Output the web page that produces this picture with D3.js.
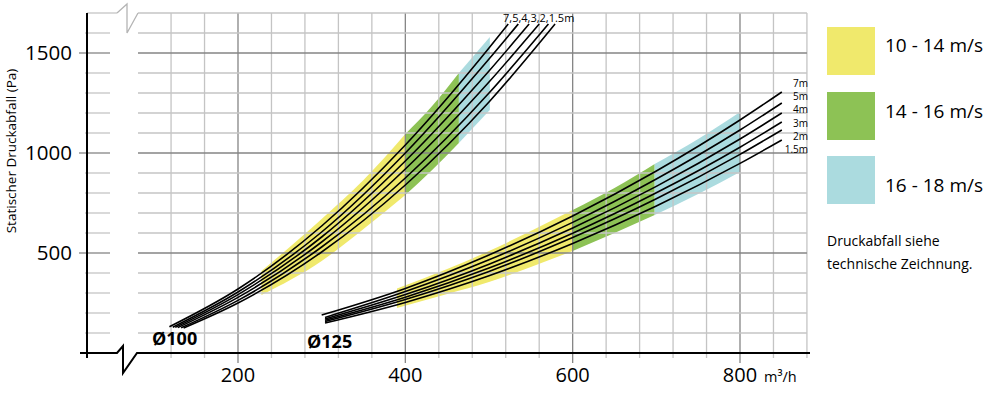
<!DOCTYPE html>
<html>
<head>
<meta charset="utf-8">
<script src="https://cdn.jsdelivr.net/npm/d3@7"></script>
<style>
body { margin: 0; background: #fff; }
svg { display: block; font-family: "Open Sans", sans-serif; }
</style>
</head>
<body>
<div id="chart"></div>
<script>
// duct lengths, same order for both diameters
var lengths = ["7m", "5m", "4m", "3m", "2m", "1.5m"];

// Ø100: flow (m3/h) and pressure drop (Pa) per length
var flow100 = [
  [118, 200, 300, 400, 500, 523],
  [122, 200, 300, 400, 500, 535],
  [125, 200, 300, 400, 500, 548],
  [128, 200, 300, 400, 500, 560],
  [132, 200, 300, 400, 500, 571],
  [135, 200, 300, 400, 500, 579]
];
var pa100 = [
  [131, 320, 635, 1040, 1525, 1645],
  [129, 305, 605, 1000, 1470, 1645],
  [128, 292, 580, 960, 1410, 1645],
  [127, 278, 555, 920, 1355, 1645],
  [126, 263, 530, 875, 1300, 1645],
  [125, 250, 505, 840, 1255, 1645]
];

// Ø125
var flow125 = [
  [300, 400, 500, 600, 700, 800, 850],
  [304, 400, 500, 600, 700, 800, 850],
  [304, 400, 500, 600, 700, 800, 850],
  [304, 400, 500, 600, 700, 800, 850],
  [304, 400, 500, 600, 700, 800, 850],
  [304, 400, 500, 600, 700, 800, 850]
];
var pa125 = [
  [190, 323, 490, 685, 910, 1165, 1305],
  [178, 307, 466, 653, 870, 1115, 1250],
  [170, 292, 444, 625, 833, 1070, 1200],
  [164, 279, 425, 599, 801, 1029, 1155],
  [158, 268, 408, 577, 771, 993, 1115],
  [150, 253, 386, 548, 735, 948, 1065]
];

// velocity zones
var zoneNames = ["10 - 14 m/s", "14 - 16 m/s", "16 - 18 m/s"];
var zoneColors = ["#f0e96c", "#8dc255", "#abdbdf"];

var zoneFlow100 = [[228, 300, 350, 400], [400, 432, 464], [464, 501]];
var zoneUpper100 = [[410, 670, 865, 1095], [1095, 1235, 1400], [1400, 1580]];
var zoneLower100 = [[290, 460, 620, 790], [790, 915, 1050], [1050, 1215]];

var zoneFlow125 = [[390, 450, 500, 550, 600], [600, 650, 698], [698, 750, 800]];
var zoneUpper125 = [[322, 420, 510, 610, 715], [715, 825, 945], [945, 1070, 1205]];
var zoneLower125 = [[225, 295, 355, 430, 510], [510, 600, 690], [690, 795, 905]];

var xTicks = [200, 400, 600, 800];
var yTicks = [500, 1000, 1500];
var xGrid = d3.range(120, 881, 40);
var yGrid = d3.range(100, 1701, 100);

var W = 1000, H = 393;
var axisX = 87, breakL = 110, breakR = 138;

var x = d3.scaleLinear().domain([200, 800]).range([238, 740]);
var y = d3.scaleLinear().domain([0, 1700]).range([353, 13]);

var svg = d3.select("#chart").append("svg")
  .attr("width", W)
  .attr("height", H);

// zones
var area = d3.area()
  .x(function(d){ return x(d[0]); })
  .y0(function(d){ return y(d[1]); })
  .y1(function(d){ return y(d[2]); })
  .curve(d3.curveMonotoneX);

function drawZones(flows, upper, lower){
  flows.forEach(function(f, i){
    var pts = f.map(function(q, j){ return [q, lower[i][j], upper[i][j]]; });
    svg.append("path")
      .attr("d", area(pts))
      .style("fill", zoneColors[i]);
  });
}
drawZones(zoneFlow100, zoneUpper100, zoneLower100);
drawZones(zoneFlow125, zoneUpper125, zoneLower125);

// grid
var grid = svg.append("g").attr("class", "grid");
var major = "#858585", minor = "#c4c4c4";

grid.selectAll(".vgrid")
  .data(xGrid)
  .enter()
  .append("line")
  .attr("x1", function(d){ return x(d); })
  .attr("x2", function(d){ return x(d); })
  .attr("y1", y(1700))
  .attr("y2", function(d){ return y(0) + (xTicks.indexOf(d) >= 0 ? 10 : 5); })
  .style("stroke", function(d){ return xTicks.indexOf(d) >= 0 ? major : minor; })
  .style("stroke-width", 1.3);

yGrid.forEach(function(v){
  var isMajor = yTicks.indexOf(v) >= 0;
  var col = isMajor ? major : minor;
  if (v < 1700) {
    grid.append("line")
      .attr("x1", isMajor ? 79 : 85).attr("x2", breakL)
      .attr("y1", y(v)).attr("y2", y(v))
      .style("stroke", col).style("stroke-width", 1.3);
  } else {
    grid.append("line")
      .attr("x1", axisX).attr("x2", 117)
      .attr("y1", y(v)).attr("y2", y(v))
      .style("stroke", col).style("stroke-width", 1.3);
  }
  grid.append("line")
    .attr("x1", breakR).attr("x2", x(880))
    .attr("y1", y(v)).attr("y2", y(v))
    .style("stroke", col).style("stroke-width", 1.3);
});

// top break mark
grid.append("path")
  .attr("d", "M117," + y(1700) + "L127,4L127,33L" + breakR + "," + y(1700))
  .style("fill", "none").style("stroke", "#b4b4b4").style("stroke-width", 1.3);

// axes
svg.append("path")
  .attr("d", "M80," + y(0) + "H117L123,346L123,373L137," + y(0) + "H810")
  .style("fill", "none").style("stroke", "#000").style("stroke-width", 2);
svg.append("line")
  .attr("x1", axisX).attr("x2", axisX)
  .attr("y1", y(1700)).attr("y2", y(0) + 5)
  .style("stroke", "#000").style("stroke-width", 2);

svg.selectAll(".xlab")
  .data(xTicks)
  .enter()
  .append("text")
  .attr("x", function(d){ return x(d); })
  .attr("y", 382)
  .attr("text-anchor", "middle")
  .style("font-size", "20px")
  .text(function(d){ return d; });

svg.append("text")
  .attr("x", 764).attr("y", 382)
  .style("font-size", "14.5px")
  .text("m³/h");

svg.selectAll(".ylab")
  .data(yTicks)
  .enter()
  .append("text")
  .attr("x", 72)
  .attr("y", function(d){ return y(d) + 7; })
  .attr("text-anchor", "end")
  .style("font-size", "20.5px")
  .text(function(d){ return d; });

svg.append("text")
  .attr("transform", "translate(16,151) rotate(-90)")
  .attr("text-anchor", "middle")
  .style("font-size", "13.5px")
  .text("Statischer Druckabfall (Pa)");

// curves
var line = d3.line()
  .x(function(d){ return x(d[0]); })
  .y(function(d){ return y(d[1]); })
  .curve(d3.curveMonotoneX);

function drawCurves(flows, pas){
  flows.forEach(function(f, i){
    var pts = f.map(function(q, j){ return [q, pas[i][j]]; });
    svg.append("path")
      .attr("d", line(pts))
      .style("fill", "none")
      .style("stroke", "#000")
      .style("stroke-width", 1.6);
  });
}
drawCurves(flow100, pa100);
drawCurves(flow125, pa125);

// curve labels
svg.append("text")
  .attr("x", 503).attr("y", 22)
  .style("font-size", "11px")
  .text(lengths.map(function(d){ return d.replace("m", ""); }).join(",") + "m");

svg.selectAll(".len")
  .data(lengths)
  .enter()
  .append("text")
  .attr("x", 808)
  .attr("y", function(d, i){ return 87 + i * 13.2; })
  .attr("text-anchor", "end")
  .style("font-size", "10px")
  .text(function(d){ return d; });

svg.append("text")
  .attr("x", 152).attr("y", 345)
  .style("font-size", "18px").style("font-weight", "bold")
  .text("Ø100");
svg.append("text")
  .attr("x", 307).attr("y", 348)
  .style("font-size", "18px").style("font-weight", "bold")
  .text("Ø125");

// legend
var legend = svg.append("g");
var legY = [27, 92, 156], legText = [52, 118, 192];
zoneNames.forEach(function(n, i){
  legend.append("rect")
    .attr("x", 827).attr("y", legY[i])
    .attr("width", 48).attr("height", 48)
    .style("fill", zoneColors[i]);
  legend.append("text")
    .attr("x", 885).attr("y", legText[i])
    .style("font-size", "19px")
    .text(n);
});
legend.append("text")
  .attr("x", 827).attr("y", 246)
  .style("font-size", "14px")
  .text("Druckabfall siehe");
legend.append("text")
  .attr("x", 827).attr("y", 269)
  .style("font-size", "14px")
  .text("technische Zeichnung.");
</script>
</body>
</html>
